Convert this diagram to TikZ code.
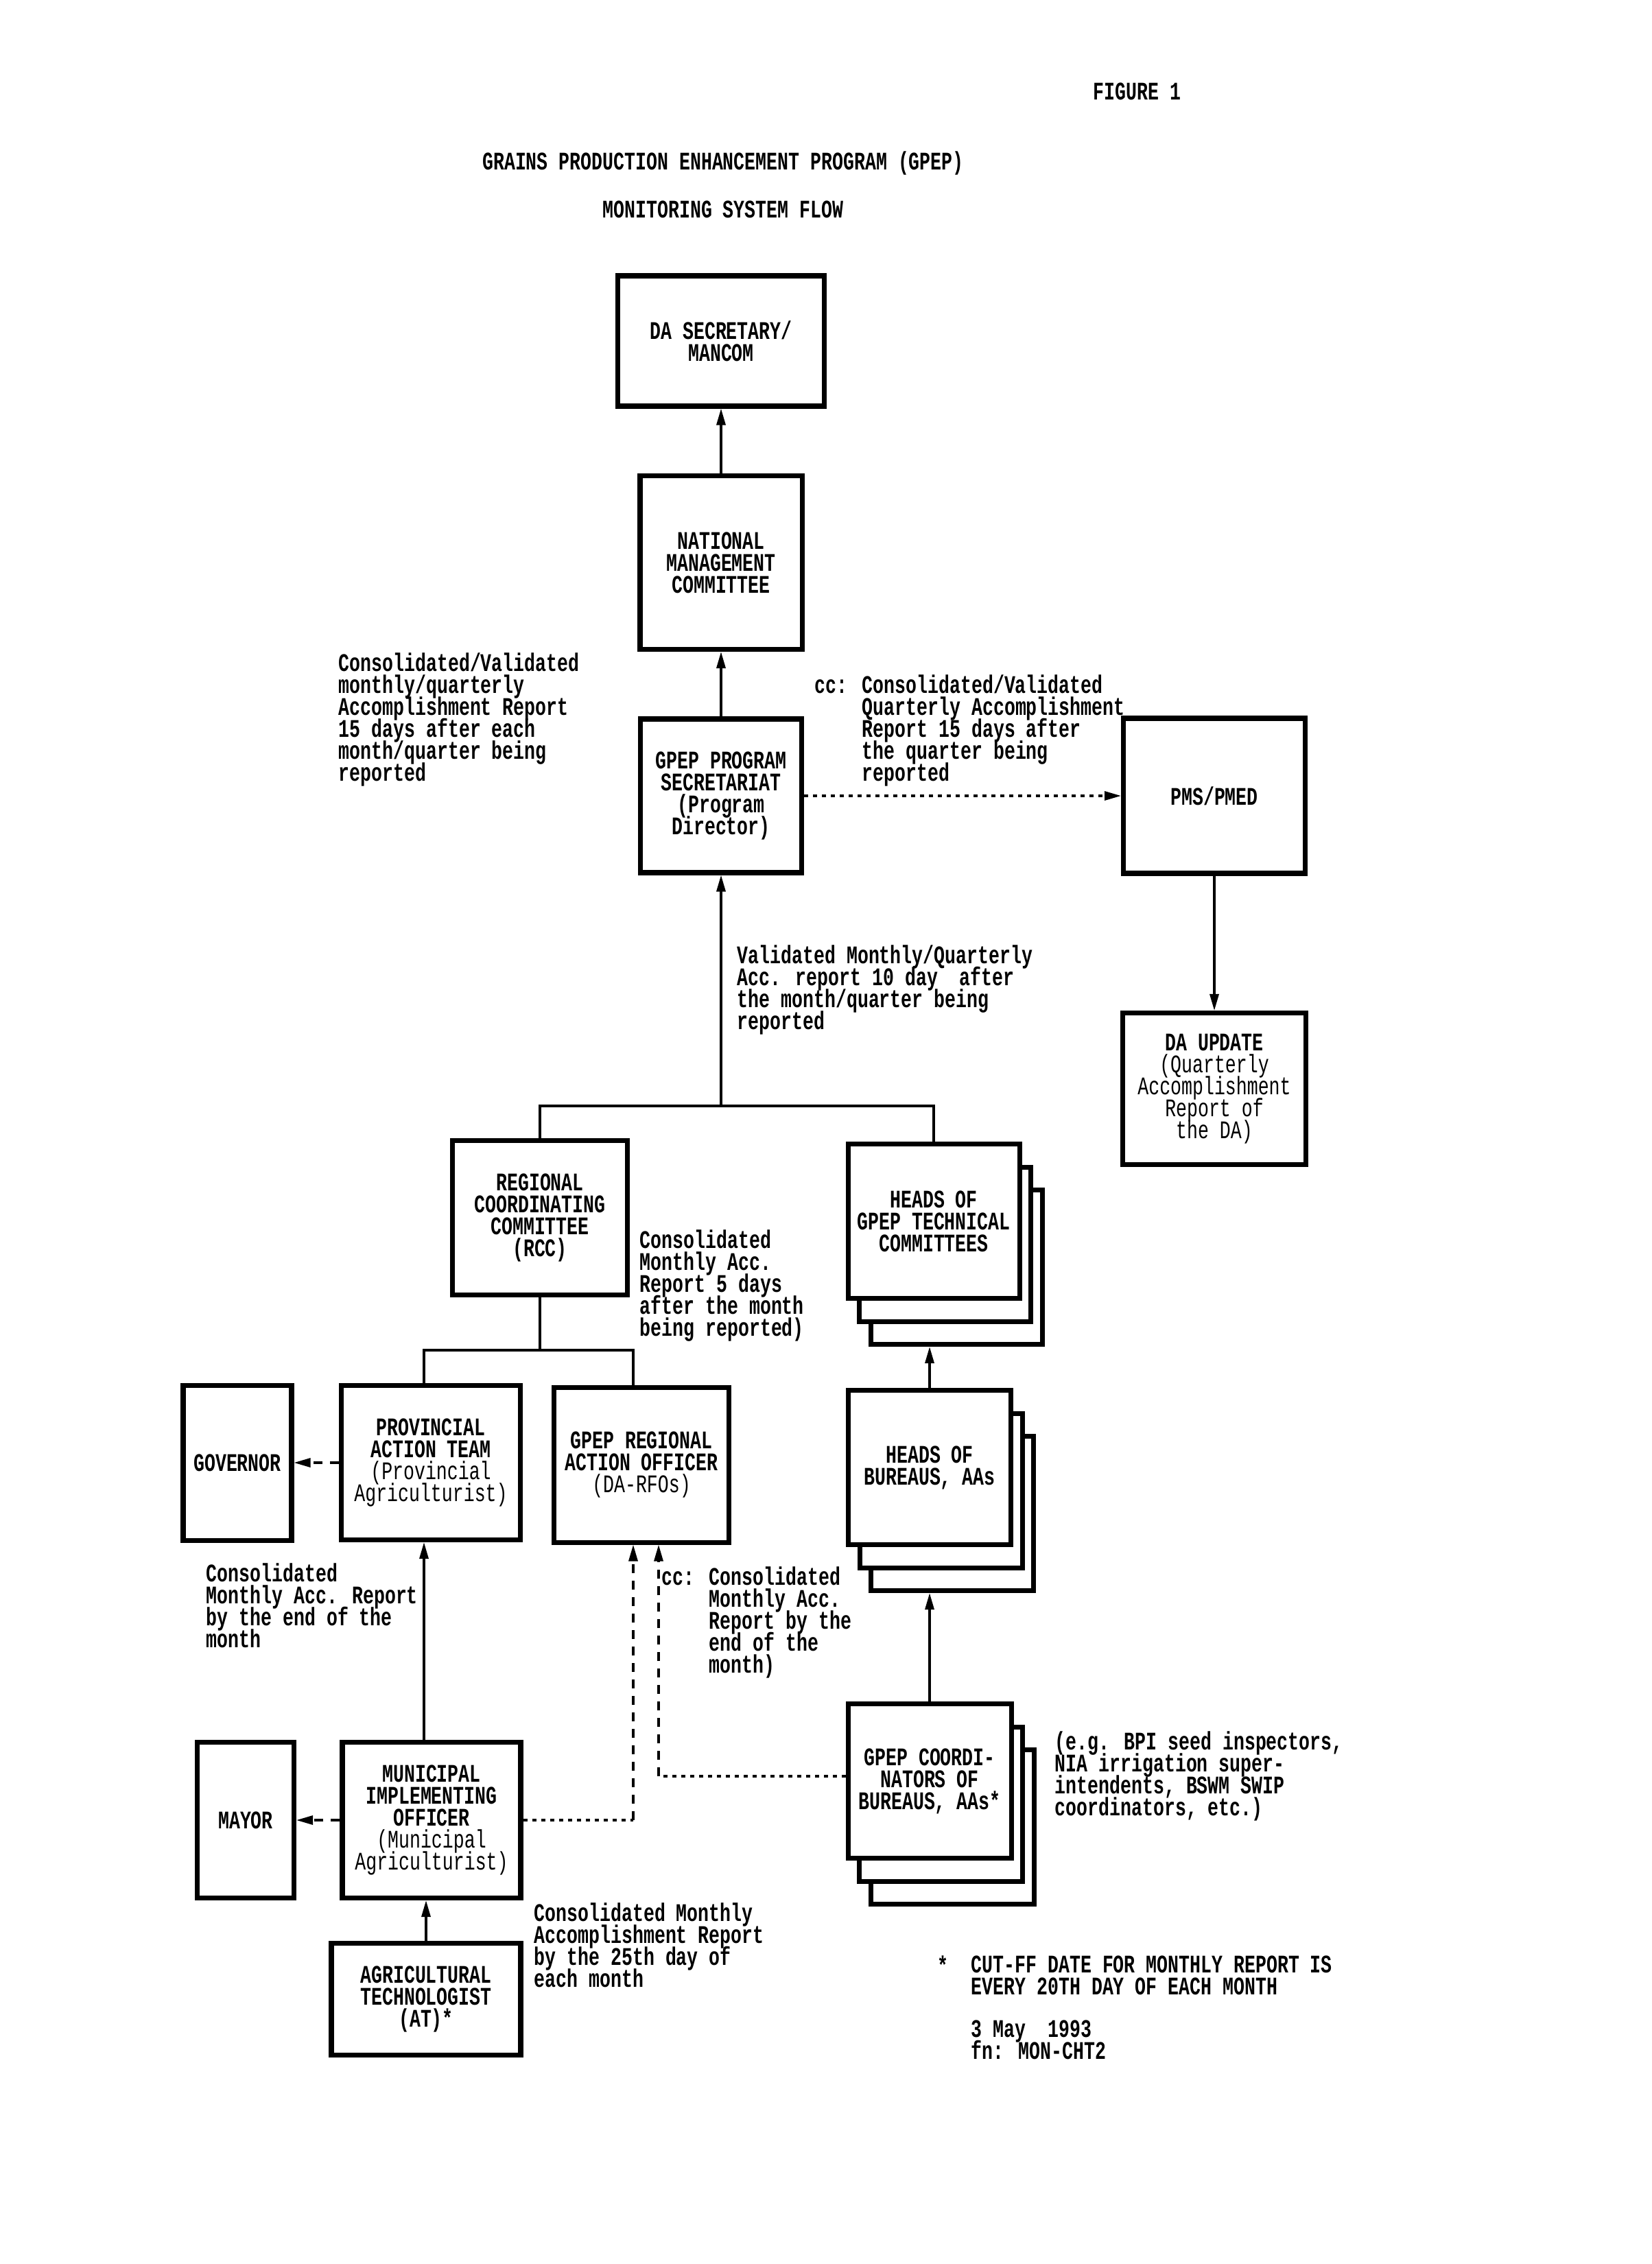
\documentclass[tikz,border=0pt]{standalone}
\usepackage{fontspec}
\usepackage{tikz}
\usetikzlibrary{arrows.meta,positioning,shadows}
\newfontfamily\dotfont[FakeStretch=0.72]{Liberation Mono}
\newcommand{\lite}[1]{{\mdseries #1}}
\newcommand{\dotsize}{\fontsize{10.5}{9.1}\selectfont\lineskiplimit=-20pt\lineskip=0pt\relax}

\begin{document}
\begin{tikzpicture}[
    every node/.style={font=\dotfont\bfseries\dotsize, inner sep=0pt},
    unit/.style={rectangle, draw=black, line width=2pt, fill=white, align=center,
                 minimum width=2.55cm, minimum height=2.25cm},
    stack/.style={copy shadow={shadow xshift=3.3mm, shadow yshift=-6.7mm, line width=2pt},
                  copy shadow={shadow xshift=1.65mm, shadow yshift=-3.35mm, line width=2pt}},
    note/.style={anchor=north west, align=left},
    line/.style={line width=0.9pt},
    arr/.style={line width=0.9pt, -{Triangle[length=2.4mm,width=1.3mm]}},
    dotline/.style={line width=0.9pt, dash pattern=on 0.6mm off 0.7mm},
    dashline/.style={line width=0.9pt, dash pattern=on 1.3mm off 1.1mm}
]
\useasboundingbox (0,0) rectangle (24.08,-33.00);

% heading
\node[anchor=north west] (fig) at (15.93,-1.20) {FIGURE 1};
\node (title) at (10.54,-2.38) {GRAINS PRODUCTION ENHANCEMENT PROGRAM (GPEP)};
\node (subtitle) at (10.54,-3.05) {MONITORING SYSTEM FLOW};

% national level
\node[unit, minimum width=3.01cm, minimum height=1.90cm] (dasec) at (10.51,-4.97) {DA SECRETARY/\\MANCOM};
\node[unit, minimum width=2.36cm, minimum height=2.53cm] (nmc) at (10.51,-8.20) {NATIONAL\\MANAGEMENT\\COMMITTEE};
\node[unit, minimum width=2.35cm, minimum height=2.24cm] (gpepps) at (10.51,-11.60) {GPEP PROGRAM\\SECRETARIAT\\(Program\\Director)};
\node[unit, minimum width=2.65cm, minimum height=2.26cm] (pms) at (17.70,-11.60) {PMS/PMED};
\node[unit, minimum width=2.67cm, minimum height=2.21cm] (daupdate) at (17.70,-15.87) {DA UPDATE\\\lite{(Quarterly}\\\lite{Accomplishment}\\\lite{Report of}\\\lite{the DA)}};

% regional level
\node[unit] (rcc) at (7.87,-17.75) {REGIONAL\\COORDINATING\\COMMITTEE\\(RCC)};
\node[unit, stack, minimum width=2.50cm] (htc) at (13.61,-17.80) {HEADS OF\\GPEP TECHNICAL\\COMMITTEES};
\node[unit, minimum width=1.58cm, minimum height=2.26cm] (gov) at (3.46,-21.32) {GOVERNOR};
\node[unit, minimum width=2.61cm] (pat) at (6.28,-21.32) {PROVINCIAL\\ACTION TEAM\\\lite{(Provincial}\\\lite{Agriculturist)}};
\node[unit, minimum height=2.26cm] (rao) at (9.35,-21.35) {GPEP REGIONAL\\ACTION OFFICER\\\lite{(DA-RFOs)}};
\node[unit, stack, minimum width=2.37cm] (hob) at (13.55,-21.39) {HEADS OF\\BUREAUS, AAs};

% field level
\node[unit, minimum width=1.41cm, minimum height=2.27cm] (mayor) at (3.58,-26.53) {MAYOR};
\node[unit, minimum width=2.60cm, minimum height=2.27cm] (mio) at (6.29,-26.53) {MUNICIPAL\\IMPLEMENTING\\OFFICER\\\lite{(Municipal}\\\lite{Agriculturist)}};
\node[unit, stack, minimum width=2.38cm] (coord) at (13.55,-25.96) {GPEP COORDI-\\NATORS OF\\BUREAUS, AAs*};
\node[unit, minimum width=2.76cm, minimum height=1.63cm] (agtech) at (6.21,-29.14) {AGRICULTURAL\\TECHNOLOGIST\\(AT)*};

% flow texts
\node[note] (lbltop) at (4.93,-9.51) {Consolidated/Validated\\monthly/quarterly\\Accomplishment Report\\15 days after each\\month/quarter being\\reported};
\node[note] (lblcc) at (11.87,-9.83) {cc: Consolidated/Validated\\\hphantom{cc: }Quarterly Accomplishment\\\hphantom{cc: }Report 15 days after\\\hphantom{cc: }the quarter being\\\hphantom{cc: }reported};
\node[note] (lblval) at (10.74,-13.77) {Validated Monthly/Quarterly\\Acc. report 10 day~ after\\the month/quarter being\\reported};
\node[note] (lblrcc) at (9.32,-17.92) {Consolidated\\Monthly Acc.\\Report 5 days\\after the month\\being reported)};
\node[note] (lblpat) at (3.00,-22.78) {Consolidated\\Monthly Acc. Report\\by the end of the\\month};
\node[note] (lblrao) at (9.64,-22.83) {cc: Consolidated\\\hphantom{cc: }Monthly Acc.\\\hphantom{cc: }Report by the\\\hphantom{cc: }end of the\\\hphantom{cc: }month)};
\node[note] (lblat) at (7.78,-27.73) {Consolidated Monthly\\Accomplishment Report\\by the 25th day of\\each month};
\node[note] (lbleg) at (15.37,-25.23) {(e.g. BPI seed inspectors,\\NIA irrigation super-\\intendents, BSWM SWIP\\coordinators, etc.)};
\node[note] (star) at (13.66,-28.50) {*};
\node[note] (cutoff) at (14.15,-28.50) {CUT-FF DATE FOR MONTHLY REPORT IS\\EVERY 20TH DAY OF EACH MONTH};
\node[note] (date) at (14.15,-29.44) {3 May~ 1993\\fn: MON-CHT2};

% junction points
\coordinate (jtop) at (10.51,-16.12);
\coordinate (jl) at (6.18,-19.68);
\coordinate (jr) at (9.23,-19.68);
\coordinate (htcend) at ([yshift=-6.7mm]htc.south);
\coordinate (hobend) at ([yshift=-6.7mm]hob.south);
\coordinate (cmio) at (jr |- mio.east);
\coordinate (ccrd) at (9.60,-25.89);

% connectors
\draw[arr] (nmc.north) -- (dasec.south);
\draw[arr] (gpepps.north) -- (nmc.south);
\draw[arr, dotline] (gpepps.east) -- (pms.west);
\draw[arr] (pms.south) -- (daupdate.north);
\draw[line] (rcc.north) |- (jtop) -| (htc.north);
\draw[arr] (jtop) -- (gpepps.south);
\draw[line] (rcc.south) -- (rcc.south |- jl);
\draw[line] (jl |- pat.north) -- (jl) -- (jr) -- (jr |- rao.north);
\draw[arr, dashline] (pat.west) -- (gov.east);
\draw[arr] (jl |- mio.north) -- (jl |- pat.south);
\draw[arr] (agtech.north) -- (agtech.north |- mio.south);
\draw[arr, dashline] (mio.west) -- (mayor.east);
\draw[dotline] (mio.east) -- (cmio);
\draw[arr, dashline] (cmio) -- (jr |- rao.south);
\draw[dotline] (ccrd -| coord.west) -- (ccrd);
\draw[arr, dashline] (ccrd) -- (ccrd |- rao.south);
\draw[arr] (hob.north) -- (hob.north |- htcend);
\draw[arr] (coord.north) -- (coord.north |- hobend);

\end{tikzpicture}
\end{document}
